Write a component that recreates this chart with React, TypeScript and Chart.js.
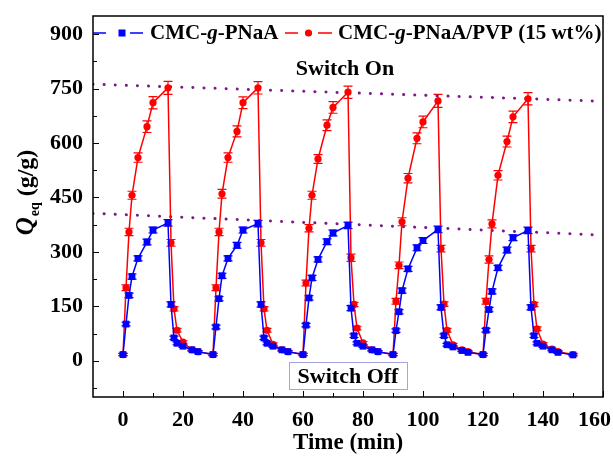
import React, { useEffect, useRef } from 'react';
import { Chart, registerables } from 'chart.js';

Chart.register(...registerables);

// ---- data ----
const time = [
  0, 1, 2, 3, 5, 8, 10, 15, 16, 17, 18, 20, 23, 25,
  30, 31, 32, 33, 35, 38, 40, 45, 46, 47, 48, 50, 53, 55,
  60, 61, 62, 63, 65, 68, 70, 75, 76, 77, 78, 80, 83, 85,
  90, 91, 92, 93, 95, 98, 100, 105, 106, 107, 108, 110, 113, 115,
  120, 121, 122, 123, 125, 128, 130, 135, 136, 137, 138, 140, 143, 145,
  150,
];
const qBlue = [
  17, 101, 180, 232, 282, 327, 360, 380, 155, 63, 48, 40, 30, 25,
  17, 93, 171, 234, 282, 318, 360, 378, 155, 63, 48, 40, 30, 25,
  17, 98, 173, 228, 279, 328, 352, 373, 145, 69, 48, 40, 30, 25,
  17, 83, 135, 193, 253, 311, 331, 362, 147, 69, 44, 38, 28, 23,
  17, 84, 141, 191, 256, 305, 339, 359, 147, 69, 48, 40, 30, 23,
  16,
];
const qRed = [
  17, 201, 355, 456, 560, 645, 711, 752, 325, 143, 84, 51, 30, 25,
  17, 201, 355, 460, 560, 632, 711, 752, 325, 143, 84, 45, 30, 25,
  17, 214, 365, 456, 556, 649, 698, 740, 284, 155, 90, 49, 30, 25,
  17, 164, 263, 383, 503, 613, 658, 716, 309, 156, 84, 44, 30, 25,
  17, 164, 279, 377, 511, 604, 672, 722, 309, 155, 88, 46, 32, 25,
  17,
];
const errBlue = [
  3, 5, 6, 7, 7, 8, 8, 9, 7, 5, 4, 3, 3, 3,
  3, 5, 6, 7, 7, 8, 8, 9, 7, 5, 4, 3, 3, 3,
  3, 5, 6, 7, 7, 8, 8, 9, 7, 5, 4, 3, 3, 3,
  3, 5, 6, 7, 7, 8, 8, 9, 7, 5, 4, 3, 3, 3,
  3, 5, 6, 7, 7, 8, 8, 9, 7, 5, 4, 3, 3, 3,
  3,
];
const errRed = [
  3, 8, 10, 11, 13, 16, 17, 18, 9, 6, 5, 4, 3, 3,
  3, 8, 10, 12, 13, 15, 16, 17, 9, 6, 5, 4, 3, 3,
  3, 8, 10, 11, 12, 15, 16, 17, 10, 6, 5, 4, 3, 3,
  3, 8, 9, 11, 13, 15, 16, 18, 9, 6, 5, 4, 3, 3,
  3, 8, 10, 11, 13, 15, 16, 17, 9, 6, 5, 4, 3, 3,
  3,
];
const guideX = [-10, 160];
const guideOn = [762, 715];
const guideOff = [406, 346];

const seriesNames = ['CMC-', 'g', '-PNaA'];
const seriesNames2 = ['CMC-', 'g', '-PNaA/PVP (15 wt%)'];
const annotOn = 'Switch On';
const annotOff = 'Switch Off';
const xTitle = 'Time (min)';
const yTitleParts = ['Q', 'eq', ' (g/g)'];

const xMajor = [0, 20, 40, 60, 80, 100, 120, 140, 160];
const xTickLabels = ['0', '20', '40', '60', '80', '100', '120', '140', '160'];
const xMinor = [10, 30, 50, 70, 90, 110, 130, 150];
const yMajor = [0, 150, 300, 450, 600, 750, 900];
const yMinor = [-75, 75, 225, 375, 525, 675, 825];
const xRange = [-10, 160];
const yRange = [-100, 950];

const SERIF = '"Liberation Serif", "Times New Roman", serif';
const BLUE = '#0000ff';
const RED = '#ff0000';
const PURPLE = '#7d1a88';

function drawMixed(ctx: CanvasRenderingContext2D, parts: string[], x: number, y: number, size: number) {
  let cx = x;
  parts.forEach((p, i) => {
    ctx.font = `${i === 1 ? 'italic ' : ''}bold ${size}px ${SERIF}`;
    ctx.fillText(p, cx, y);
    cx += ctx.measureText(p).width;
  });
}

const decor = {
  id: 'decor',
  beforeDatasetsDraw(chart: any) {
    const ctx = chart.ctx as CanvasRenderingContext2D;
    const ys = chart.scales.y;
    const draw = (idx: number, vals: number[], errs: number[], color: string) => {
      const meta = chart.getDatasetMeta(idx);
      ctx.save();
      ctx.strokeStyle = color;
      ctx.lineWidth = 1.2;
      meta.data.forEach((pt: any, i: number) => {
        const t = ys.getPixelForValue(vals[i] + errs[i]);
        const b = ys.getPixelForValue(vals[i] - errs[i]);
        ctx.beginPath();
        ctx.moveTo(pt.x, t);
        ctx.lineTo(pt.x, b);
        ctx.moveTo(pt.x - 4.5, t);
        ctx.lineTo(pt.x + 4.5, t);
        ctx.moveTo(pt.x - 4.5, b);
        ctx.lineTo(pt.x + 4.5, b);
        ctx.stroke();
      });
      ctx.restore();
    };
    draw(1, qRed, errRed, RED);
    draw(0, qBlue, errBlue, BLUE);
  },
  afterDraw(chart: any) {
    const ctx = chart.ctx as CanvasRenderingContext2D;
    const xs = chart.scales.x;
    const ys = chart.scales.y;
    const L = xs.getPixelForValue(xRange[0]);
    const R = xs.getPixelForValue(xRange[1]);
    const T = ys.getPixelForValue(yRange[1]);
    const B = ys.getPixelForValue(yRange[0]);
    ctx.save();
    // frame
    ctx.strokeStyle = '#000';
    ctx.lineWidth = 1.5;
    ctx.strokeRect(L, T, R - L, B - T);
    // ticks (inward)
    ctx.lineWidth = 1;
    ctx.beginPath();
    xMajor.forEach((v) => {
      const px = Math.round(xs.getPixelForValue(v)) + 0.5;
      ctx.moveTo(px, B);
      ctx.lineTo(px, B - 6);
    });
    xMinor.forEach((v) => {
      const px = Math.round(xs.getPixelForValue(v)) + 0.5;
      ctx.moveTo(px, B);
      ctx.lineTo(px, B - 4);
    });
    yMajor.forEach((v) => {
      const py = Math.round(ys.getPixelForValue(v)) + 0.5;
      ctx.moveTo(L, py);
      ctx.lineTo(L + 6, py);
    });
    yMinor.forEach((v) => {
      const py = Math.round(ys.getPixelForValue(v)) + 0.5;
      ctx.moveTo(L, py);
      ctx.lineTo(L + 4, py);
    });
    ctx.stroke();

    ctx.fillStyle = '#000';
    ctx.textBaseline = 'middle';

    // x tick labels
    ctx.font = `bold 22px ${SERIF}`;
    ctx.textAlign = 'center';
    xMajor.forEach((v, i) => {
      const lbl = xTickLabels[i];
      const w = ctx.measureText(lbl).width;
      let px = xs.getPixelForValue(v);
      if (px + w / 2 > 611) px = 611 - w / 2;
      ctx.fillText(lbl, px, 420);
    });

    // x title
    ctx.font = `bold 23px ${SERIF}`;
    ctx.fillText(xTitle, (L + R) / 2, 443);

    // y title (rotated)
    ctx.save();
    ctx.translate(27, 193);
    ctx.rotate(-Math.PI / 2);
    ctx.textAlign = 'left';
    ctx.font = `italic bold 25px ${SERIF}`;
    const wQ = ctx.measureText(yTitleParts[0]).width;
    ctx.font = `bold 14px ${SERIF}`;
    const wS = ctx.measureText(yTitleParts[1]).width;
    ctx.font = `bold 24px ${SERIF}`;
    const wR = ctx.measureText(yTitleParts[2]).width;
    let sx = -(wQ + wS + wR) / 2;
    ctx.font = `italic bold 25px ${SERIF}`;
    ctx.fillText(yTitleParts[0], sx, 0);
    sx += wQ + 1;
    ctx.font = `bold 14px ${SERIF}`;
    ctx.fillText(yTitleParts[1], sx, 8);
    sx += wS;
    ctx.font = `bold 24px ${SERIF}`;
    ctx.fillText(yTitleParts[2], sx, 0);
    ctx.restore();

    // Switch On
    ctx.textAlign = 'center';
    ctx.font = `bold 22px ${SERIF}`;
    ctx.fillText(annotOn, 345, 69);

    // Switch Off box
    ctx.fillStyle = '#fff';
    ctx.fillRect(289, 362, 119, 28);
    ctx.strokeStyle = '#a4a4e4';
    ctx.lineWidth = 1;
    ctx.strokeRect(289.5, 362.5, 118, 27);
    ctx.fillStyle = '#000';
    ctx.font = `bold 22px ${SERIF}`;
    ctx.fillText(annotOff, 348, 377);

    // legend
    const ly = 33;
    ctx.lineWidth = 1.5;
    ctx.strokeStyle = BLUE;
    ctx.beginPath();
    ctx.moveTo(93, ly); ctx.lineTo(106, ly);
    ctx.moveTo(130, ly); ctx.lineTo(143, ly);
    ctx.stroke();
    ctx.fillStyle = BLUE;
    ctx.fillRect(118.5, ly - 3.5, 7, 7);
    ctx.strokeStyle = RED;
    ctx.beginPath();
    ctx.moveTo(285, ly); ctx.lineTo(298, ly);
    ctx.moveTo(318, ly); ctx.lineTo(332, ly);
    ctx.stroke();
    ctx.fillStyle = RED;
    ctx.beginPath();
    ctx.arc(308.5, ly, 3.6, 0, Math.PI * 2);
    ctx.fill();
    ctx.fillStyle = '#000';
    ctx.textAlign = 'left';
    drawMixed(ctx, seriesNames, 150, ly + 1, 21);
    drawMixed(ctx, seriesNames2, 338, ly + 1, 21);
    ctx.restore();
  },
};

export default function App() {
  const ref = useRef<HTMLCanvasElement>(null);
  useEffect(() => {
    if (!ref.current) return;
    const tickFont = { family: SERIF, weight: 'bold' as const, size: 22 };
    const chart = new Chart(ref.current, {
      type: 'line',
      data: {
        datasets: [
          {
            label: 'CMC-g-PNaA',
            data: time.map((t, i) => ({ x: t, y: qBlue[i] })),
            borderColor: BLUE,
            backgroundColor: BLUE,
            borderWidth: 1.5,
            pointStyle: 'rect',
            pointRadius: 4.8,
            pointBorderWidth: 0,
          },
          {
            label: 'CMC-g-PNaA/PVP (15 wt%)',
            data: time.map((t, i) => ({ x: t, y: qRed[i] })),
            borderColor: RED,
            backgroundColor: RED,
            borderWidth: 1.5,
            pointStyle: 'circle',
            pointRadius: 3.6,
            pointBorderWidth: 0,
          },
          {
            label: 'on',
            data: guideX.map((x, i) => ({ x, y: guideOn[i] })),
            borderColor: PURPLE,
            borderWidth: 3,
            borderDash: [0.1, 11],
            borderCapStyle: 'round',
            pointRadius: 0,
          },
          {
            label: 'off',
            data: guideX.map((x, i) => ({ x, y: guideOff[i] })),
            borderColor: PURPLE,
            borderWidth: 3,
            borderDash: [0.1, 11],
            borderCapStyle: 'round',
            pointRadius: 0,
          },
        ],
      },
      options: {
        animation: false,
        responsive: true,
        maintainAspectRatio: false,
        layout: { padding: { top: 16, right: 10, left: 0, bottom: 0 } },
        plugins: { legend: { display: false }, tooltip: { enabled: false } },
        scales: {
          x: {
            type: 'linear',
            min: xRange[0],
            max: xRange[1],
            afterBuildTicks: (s: any) => {
              s.ticks = xMajor.map((v) => ({ value: v }));
            },
            afterFit: (s: any) => {
              s.height = 64;
              s.paddingLeft = 0;
              s.paddingRight = 0;
            },
            grid: { display: false, drawTicks: false },
            border: { display: false },
            ticks: { display: false },
          },
          y: {
            type: 'linear',
            min: yRange[0],
            max: yRange[1],
            afterBuildTicks: (s: any) => {
              s.ticks = yMajor.map((v) => ({ value: v }));
            },
            afterFit: (s: any) => {
              s.width = 93;
              s.paddingTop = 0;
              s.paddingBottom = 0;
            },
            grid: { display: false, drawTicks: false },
            border: { display: false },
            ticks: { font: tickFont, color: '#000', padding: 10, autoSkip: false },
          },
        },
      },
      plugins: [decor],
    });
    return () => chart.destroy();
  }, []);
  return (
    <div style={{ position: 'fixed', left: 0, top: 0, width: 613, height: 461, background: '#fff' }}>
      <canvas ref={ref} />
    </div>
  );
}
